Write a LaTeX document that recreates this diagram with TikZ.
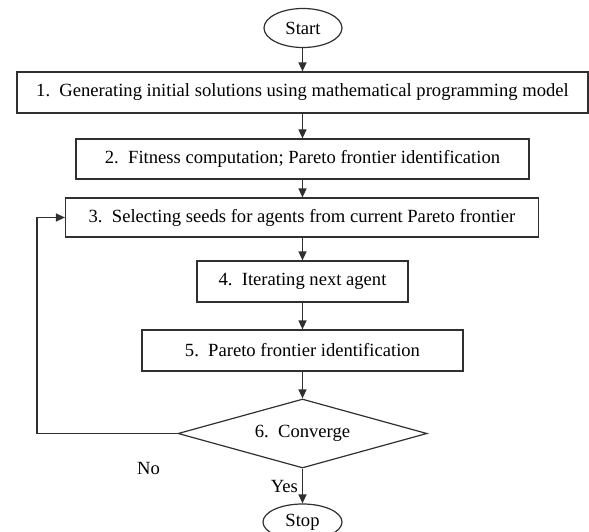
\documentclass[tikz,border=0pt]{standalone}
\usepackage{fontspec}
\setmainfont{Liberation Serif}
\usetikzlibrary{positioning, arrows.meta, shapes.geometric}
\definecolor{linegray}{HTML}{303030}

\tikzset{
  stepbox/.style={draw=linegray, line width=1.2pt, minimum height=41pt, inner sep=0pt},
  term/.style={draw=linegray, ellipse, line width=1.2pt, minimum width=78pt,
               minimum height=39pt, inner sep=0pt},
  decide/.style={draw=linegray, diamond, aspect=3.6, line width=1.2pt,
                 minimum width=249pt, minimum height=69pt, inner sep=0pt},
  flow/.style={draw=linegray, line width=1.2pt, -{Triangle[length=9pt,width=8pt]}},
}

\begin{document}
\begin{tikzpicture}[x=1pt, y=-1pt, font=\fontsize{18.6}{22}\selectfont]
  \useasboundingbox (0,0) rectangle (589,532);

  % terminals and steps
  \node[term] (start) at (303,28) {Start};
  \node[stepbox, minimum width=571pt] (gen) at (302.5,92.5)
    {1.\enspace Generating initial solutions using mathematical programming model};
  \node[stepbox, minimum width=453pt, minimum height=40pt] (fit) at (302.5,159)
    {2.\enspace Fitness computation; Pareto frontier identification};
  \node[stepbox, minimum width=473pt, minimum height=39pt] (sel) at (302,217.5)
    {3.\enspace Selecting seeds for agents from current Pareto frontier};
  \node[stepbox, minimum width=211pt] (iter) at (302.5,281.5)
    {4.\enspace Iterating next agent};
  \node[stepbox, minimum width=321pt] (pid) at (302.5,350.5)
    {5.\enspace Pareto frontier identification};
  \node[decide] (conv) at (302.5,433.5) {6.\enspace Converge};
  \node[term, minimum width=79pt, minimum height=36pt] (stop) at (302.5,522) {Stop};
  \coordinate (back) at (37,433.5);

  % connectors
  \draw[flow] (start.south -| gen) -- (gen);
  \draw[flow] (gen.south -| fit) -- (fit);
  \draw[flow] (fit) -- (fit |- sel.north);
  \draw[flow] (sel.south -| iter) -- (iter);
  \draw[flow] (iter) -- (pid);
  \draw[flow] (pid) -- (conv);
  \draw[flow] (conv) -- node[left=4pt, inner sep=0pt] {Yes} (stop);
  \draw[flow] (conv.west) -- (back) |- (sel.west);
  \node (no) at (148.5,468) {No};
\end{tikzpicture}
\end{document}
